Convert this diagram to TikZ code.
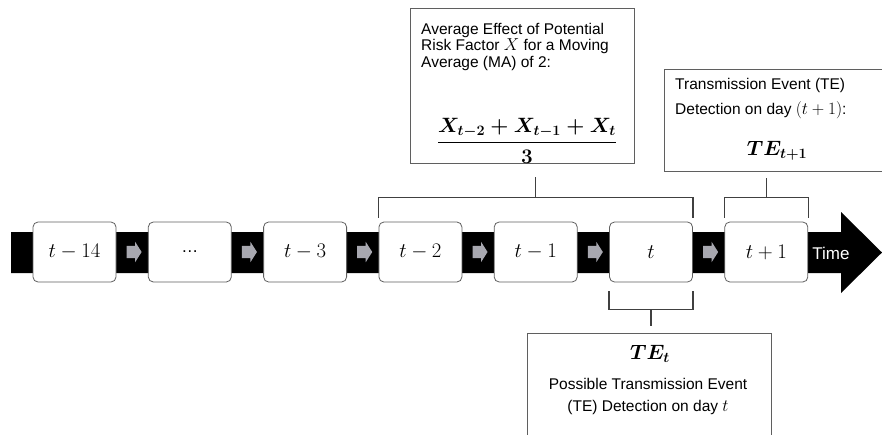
\documentclass[tikz,border=0pt]{standalone}
\usepackage{fontspec}
\setmainfont{Liberation Sans}
\usepackage{amsmath}
\usetikzlibrary{positioning,shapes.arrows,calc}

\definecolor{stepgray}{RGB}{168,168,176}
\definecolor{linegray}{RGB}{64,64,64}
\definecolor{framegray}{RGB}{95,95,95}

\tikzset{
    daybox/.style={draw=framegray, fill=white, rounded corners=5pt, line width=0.8pt,
        minimum width=83pt, minimum height=60pt, inner sep=0pt, font=\fontsize{20}{24}\selectfont},
    steparrow/.style={single arrow, fill=stepgray, draw=none, inner xsep=0pt, inner ysep=6pt,
        minimum height=15pt, single arrow head extend=4pt, single arrow tip angle=115},
    bracket/.style={draw=linegray, line width=1.3pt},
    infobox/.style={draw=framegray, line width=0.8pt, fill=white, inner sep=0pt},
    infotext/.style={font=\fontsize{15.5}{16.5}\selectfont, inner sep=0pt, align=left},
    bigmath/.style={font=\fontsize{20}{24}\selectfont\mathversion{bold}, inner sep=0pt},
}

\begin{document}
\begin{tikzpicture}[x=1pt, y=-1pt]
        \useasboundingbox (0,0) rectangle (882,434);
        \fill (11,232) -- (841,232) -- (841,212) -- (882,252.5) -- (841,293)
            -- (841,273) -- (11,273) -- cycle;
        \node[text=white, font=\fontsize{17}{20}\selectfont] (time) at (831,253) {Time};

        \node[daybox] (d14) at (74.5,252) {$t-14$};
        \node[daybox, right=31.5pt of d14] (ddots) {\fontsize{17}{20}\selectfont\ldots};
        \node[daybox, right=31.5pt of ddots] (d3) {$t-3$};
        \node[daybox, right=31.5pt of d3] (d2) {$t-2$};
        \node[daybox, right=31.5pt of d2] (d1) {$t-1$};
        \node[daybox, right=31.5pt of d1] (d0) {$t$};
        \node[daybox, right=31.5pt of d0] (dnext) {$t+1$};

        \path (d14) -- (ddots) node[midway, steparrow] (a1) {};
        \path (ddots) -- (d3) node[midway, steparrow] (a2) {};
        \path (d3) -- (d2) node[midway, steparrow] (a3) {};
        \path (d2) -- (d1) node[midway, steparrow] (a4) {};
        \path (d1) -- (d0) node[midway, steparrow] (a5) {};
        \path (d0) -- (dnext) node[midway, steparrow] (a6) {};

        \node[infobox, anchor=north west, minimum width=224pt, minimum height=155pt] (avgbox) at (410,8) {};
        \node[infotext, anchor=north west] (avgtext) at (421,23) {Average Effect of Potential\\Risk Factor {\fontsize{19}{16.5}\selectfont$X$} for a Moving\\Average (MA) of 2:};
        \node[bigmath, font=\fontsize{22}{26}\selectfont\mathversion{bold}] (avgfrac) at (527,141) {$\displaystyle\frac{X_{t-2}+X_{t-1}+X_t}{3}$};

        \node[infobox, anchor=north west, minimum width=230pt, minimum height=102pt] (tebox) at (664,69) {};
        \node[infotext, anchor=north west, font=\fontsize{15.5}{25}\selectfont] (tetext) at (675,78) {Transmission Event (TE)\\Detection on day {\fontsize{19}{25}\selectfont$(t+1)$}:};
        \node[bigmath] (tenext) at (777,151) {$TE_{t+1}$};

        \node[infobox, anchor=north west, minimum width=244pt, minimum height=120pt] (tenowbox) at (527,333) {};
        \node[bigmath] (tenow) at (650,354) {$TE_t$};
        \node[infotext, align=center, anchor=north, font=\fontsize{15.5}{22}\selectfont] (tenowtext) at (648,378) {Possible Transmission Event\\(TE) Detection on day {\fontsize{19}{22}\selectfont$t$}};

        \coordinate (avgmid) at ($([yshift=24pt]d2.north west)!0.5!([yshift=24pt]d0.north east)$);
        \draw[bracket] ([yshift=4pt]d2.north west) -- ++(0,-20) -| ([yshift=4pt]d0.north east);
        \draw[bracket] (avgmid) -- ++(0,-21);
        \draw[bracket] ([yshift=4pt]dnext.north west) -- ++(0,-20) -| ([yshift=4pt]dnext.north east);
        \draw[bracket] ([yshift=24pt]dnext.north) -- ++(0,-20);
        \draw[bracket] ([yshift=-9pt]d0.south west) -- ++(0,18) -| ([yshift=-9pt]d0.south east);
        \draw[bracket] ([yshift=-27pt]d0.south) -- ++(0,17);
    \end{tikzpicture}
\end{document}
